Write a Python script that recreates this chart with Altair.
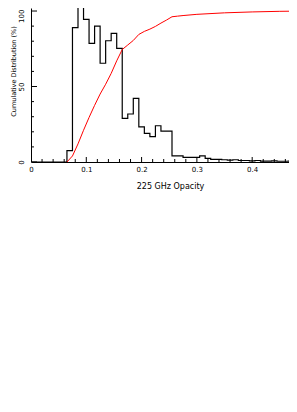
import altair as alt
import pandas as pd

# Histogram (left bin edges of 0.01-wide bins) and heights
bin_left = [0.065, 0.075, 0.085, 0.095, 0.105, 0.115, 0.125, 0.135, 0.145, 0.155,
            0.165, 0.175, 0.185, 0.195, 0.205, 0.215, 0.225, 0.235, 0.245, 0.255,
            0.265, 0.275, 0.285, 0.295, 0.305, 0.315, 0.325, 0.335, 0.345, 0.355,
            0.365, 0.375, 0.385, 0.395, 0.405, 0.415, 0.425, 0.435, 0.445, 0.455,
            0.465, 0.475]
bin_height = [7.5, 89, 112, 94.5, 78.6, 90, 65.4, 80.3, 85.2, 75.3,
              28.9, 31.8, 42.2, 23.2, 19.0, 16.8, 24.0, 20.5, 20.5, 4.0,
              4.0, 3.1, 3.1, 3.1, 4.0, 2.4, 1.8, 1.8, 1.5, 1.2,
              1.5, 1.0, 1.0, 0.8, 1.0, 0.6, 0.6, 0.8, 0.5, 0.5,
              0.6, 0.6]

# Cumulative distribution (red)
cum_x = [0.065, 0.075, 0.085, 0.095, 0.105, 0.115, 0.125, 0.135, 0.145, 0.155,
         0.165, 0.175, 0.185, 0.195, 0.205, 0.215, 0.225, 0.235, 0.245, 0.255,
         0.265, 0.275, 0.30, 0.35, 0.40, 0.45, 0.50]
cum_y = [0, 4, 12, 21, 29.5, 37.5, 45, 51.5, 58.7, 67,
         74.5, 77.5, 80.5, 84.5, 86.5, 88, 89.8, 92, 94, 96.2,
         96.6, 97, 97.8, 98.8, 99.4, 99.8, 100]

x_major = [0, 0.1, 0.2, 0.3, 0.4]
x_minor = [0.02, 0.04, 0.06, 0.08, 0.12, 0.14, 0.16, 0.18, 0.22, 0.24, 0.26, 0.28,
           0.32, 0.34, 0.36, 0.38, 0.42, 0.44, 0.46]
y_major = [0, 50, 100]
y_minor = [10, 20, 30, 40, 60, 70, 80, 90]

W, H = 258, 154
FONT = "DejaVu Sans"

xs = alt.Scale(domain=[0, 0.4666], nice=False, zero=False)
ys = alt.Scale(domain=[0, 102], nice=False, zero=False)

hist_df = pd.DataFrame({"x": [0.0] + bin_left, "y": [0.0] + bin_height})
cum_df = pd.DataFrame({"x": cum_x, "y": cum_y})

x_axis = alt.Axis(values=x_major, format=".1~f", title="225 GHz Opacity",
                  ticks=False, grid=False, domainColor="black", domainWidth=1,
                  labelFont=FONT, labelFontSize=7, labelColor="black", labelPadding=3,
                  labelFlush=False, titleFont=FONT, titleFontSize=8, titleFontWeight="normal",
                  titleColor="black", titleX=139, titleY=26, titleAlign="center",
                  titleBaseline="alphabetic")
y_axis = alt.Axis(values=y_major, title="Cumulative Distribution (%)",
                  ticks=False, grid=False, domainColor="black", domainWidth=1,
                  labelFont=FONT, labelFontSize=7, labelColor="black", labelAngle=270,
                  labelPadding=7, labelFlush=False,
                  labelAlign={"condition": {"test": "datum.value == 100", "value": "right"},
                              "value": "center"},
                  labelOffset={"condition": {"test": "datum.value == 100", "value": -2},
                               "value": 0},
                  titleFont=FONT, titleFontSize=6.5, titleFontWeight="normal", titleColor="black",
                  titleAngle=270, titleX=-18, titleY=63, titleAlign="center",
                  titleBaseline="middle")

X = lambda f: alt.X(f, scale=xs, axis=x_axis)
Y = lambda f: alt.Y(f, scale=ys, axis=y_axis)

hist = alt.Chart(hist_df).mark_line(interpolate="step-after", color="black",
                                    strokeWidth=1.2, clip=True).encode(
    x=X("x:Q"), y=Y("y:Q"))

cum = alt.Chart(cum_df).mark_line(color="#ff0000", strokeWidth=1, clip=True).encode(
    x=X("x:Q"), y=Y("y:Q"))

xmaj = alt.Chart(pd.DataFrame({"v": x_major})).mark_rule(color="black", clip=True).encode(
    x=X("v:Q"), y=alt.value(H), y2=alt.value(H - 5))
xmin = alt.Chart(pd.DataFrame({"v": x_minor})).mark_rule(color="black", clip=True).encode(
    x=X("v:Q"), y=alt.value(H), y2=alt.value(H - 3))
ymaj = alt.Chart(pd.DataFrame({"v": y_major})).mark_rule(color="black", clip=True).encode(
    y=Y("v:Q"), x=alt.value(0), x2=alt.value(6))
ymin = alt.Chart(pd.DataFrame({"v": y_minor})).mark_rule(color="black", clip=True).encode(
    y=Y("v:Q"), x=alt.value(0), x2=alt.value(3))

chart = alt.layer(hist, cum, xmin, xmaj, ymin, ymaj).properties(
    width=W, height=H,
    autosize=alt.AutoSizeParams(type="none"),
    padding={"left": 23, "top": 0, "right": 0, "bottom": 40},
).configure_view(stroke=None)

chart.save("out.html", embed_options={"renderer": "svg", "actions": False})
